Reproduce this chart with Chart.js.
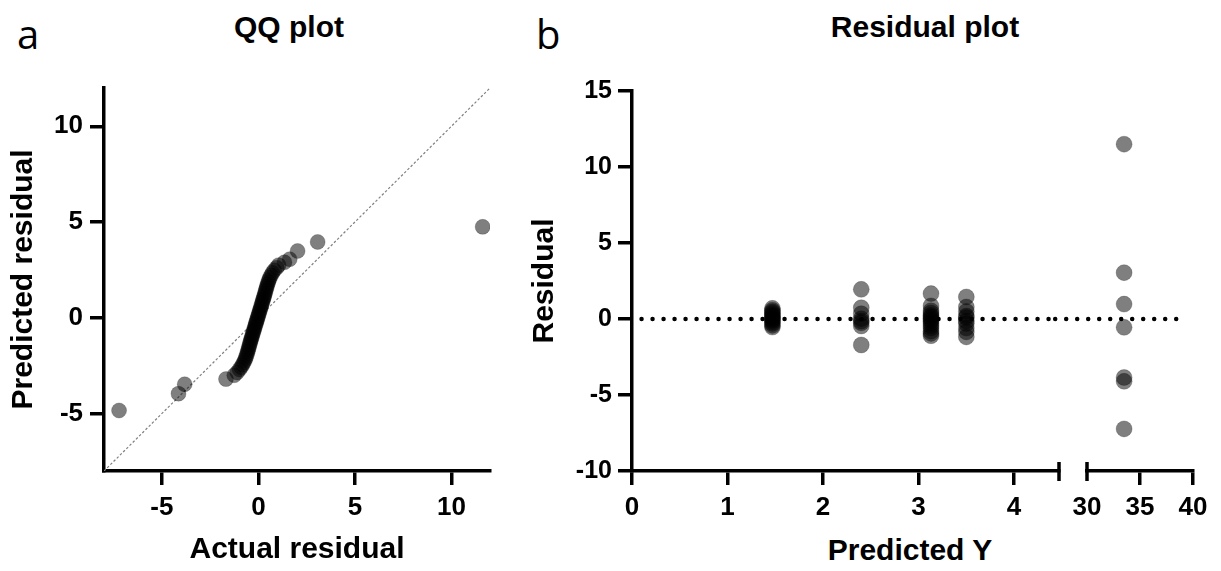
<!DOCTYPE html>
<html>
<head>
<meta charset="utf-8">
<script src="https://cdn.jsdelivr.net/npm/chart.js@4.4.1/dist/chart.umd.min.js"></script>
<style>
    body { margin: 0; background: #fff; }
    #wrap { position: relative; width: 1221px; height: 571px; overflow: hidden; }
    canvas { position: absolute; top: 0; }
    .txt { position: absolute; white-space: nowrap; line-height: 1; color: #000; }
    .letra { font-family: 'Open Sans', sans-serif; font-size: 40px; }
    .titulo { font-family: 'Liberation Sans', Arial, sans-serif; font-weight: bold; font-size: 30px; transform: translateX(-50%); }
</style>
</head>
<body>
<div id="wrap">
    <div class="txt letra" style="left:17px; top:14px">a</div>
    <div class="txt letra" style="left:536px; top:14px">b</div>
    <div class="txt titulo" style="left:289px; top:12px">QQ plot</div>
    <div class="txt titulo" style="left:925px; top:12px">Residual plot</div>
    <div class="txt titulo" style="left:910px; top:535px">Predicted Y</div>
    <canvas id="qqChart" width="505" height="571" style="left:0px"></canvas>
    <canvas id="residChart1" width="570" height="571" style="left:500px"></canvas>
    <canvas id="residChart2" width="171" height="571" style="left:1050px"></canvas>
</div>
<script>
// QQ plot: actual residual (x) vs predicted residual (y)
const qqActual = [
    -7.22, -4.14, -3.82, -1.68, -1.25, -1.10, -0.98, -0.90, -0.82, -0.76,
    -0.70, -0.66, -0.62, -0.58, -0.55, -0.52, -0.49, -0.46, -0.43, -0.40,
    -0.37, -0.34, -0.31, -0.28, -0.25, -0.22, -0.19, -0.16, -0.13, -0.10,
    -0.07, -0.04, -0.01, 0.02, 0.05, 0.08, 0.11, 0.14, 0.17, 0.20,
    0.23, 0.26, 0.29, 0.32, 0.35, 0.38, 0.41, 0.44, 0.47, 0.51,
    0.55, 0.60, 0.66, 0.73, 0.82, 0.95, 1.05, 1.35, 1.62, 2.03,
    3.07, 11.62
]
const qqPredicted = [
    -4.84, -3.96, -3.47, -3.20, -3.00, -2.85, -2.70, -2.58, -2.45, -2.33,
    -2.22, -2.10, -1.98, -1.86, -1.75, -1.64, -1.53, -1.42, -1.31, -1.20,
    -1.10, -1.00, -0.90, -0.80, -0.70, -0.60, -0.50, -0.40, -0.30, -0.20,
    -0.10, 0.00, 0.10, 0.20, 0.30, 0.40, 0.50, 0.60, 0.70, 0.80,
    0.90, 1.00, 1.10, 1.20, 1.31, 1.42, 1.53, 1.64, 1.75, 1.86,
    1.98, 2.10, 2.22, 2.35, 2.48, 2.62, 2.75, 2.90, 3.06, 3.49,
    3.96, 4.75
]
const qqTicks = [-5, 0, 5, 10]
const qqMin = -8
const qqMax = 12

// Residual plot: predicted Y (x) vs residual (y), x axis broken between 4.47 and 30
const residPredY = [
    1.47, 1.47, 1.47, 1.47, 1.47, 1.47, 1.47, 1.47, 1.47, 1.47, 1.47, 1.47, 1.47, 1.47,
    2.40, 2.40, 2.40, 2.40, 2.40, 2.40, 2.40, 2.40,
    3.13, 3.13, 3.13, 3.13, 3.13, 3.13, 3.13, 3.13, 3.13, 3.13, 3.13, 3.13, 3.13, 3.13, 3.13,
    3.50, 3.50, 3.50, 3.50, 3.50, 3.50, 3.50, 3.50, 3.50, 3.50,
    33.5, 33.5, 33.5, 33.5, 33.5, 33.5, 33.5
]
const residValues = [
    0.70, 0.58, 0.48, 0.38, 0.28, 0.20, 0.12, 0.05, -0.02, -0.10, -0.20, -0.30, -0.42, -0.53,
    1.95, 0.74, 0.35, 0.02, -0.13, -0.25, -0.46, -1.71,
    1.67, 0.86, 0.55, 0.40, 0.25, 0.15, 0.05, -0.05, -0.15, -0.30, -0.45, -0.60, -0.80, -0.95, -1.10,
    1.45, 0.79, 0.50, 0.20, 0.10, -0.13, -0.30, -0.60, -0.85, -1.18,
    11.50, 3.05, 0.98, -0.55, -3.85, -4.10, -7.23
]
const residYTicks = [-10, -5, 0, 5, 10, 15]
const residXTicksA = [0, 1, 2, 3, 4]
const residXTicksB = [30, 35, 40]
const faixaA = [0, 4.47]
const faixaB = [30, 40]

const fonteTicks = "'Liberation Sans', Arial, sans-serif"
const corPonto = 'rgba(0,0,0,0.5)'
const corBorda = 'rgba(0,0,0,0.2)'

// marca de fim de eixo (quebra)
const capsPlugin = {
    id: 'caps',
    afterDraw(chart, args, opts) {
        if (!opts.values) return
        const ctx = chart.ctx
        const x = chart.scales.x
        const y0 = chart.chartArea.bottom
        ctx.save()
        ctx.strokeStyle = '#000'
        ctx.lineWidth = 3.5
        opts.values.forEach(v => {
            const px = x.getPixelForValue(v)
            ctx.beginPath()
            ctx.moveTo(px, y0 - 9)
            ctx.lineTo(px, y0 + 10)
            ctx.stroke()
        })
        ctx.restore()
    }
}

function eixo(min, max, ticks, extra) {
    return Object.assign({
        type: 'linear',
        min: min,
        max: max,
        afterBuildTicks: s => { s.ticks = ticks.map(v => ({ value: v })) },
        border: { display: true, color: '#000', width: 3.5 },
        grid: { drawOnChartArea: false, drawTicks: true, tickLength: 14, color: '#000', lineWidth: 3.5, tickWidth: 3.5 },
        ticks: { color: '#000', font: { family: fonteTicks, weight: 'bold', size: 26 }, padding: 7, maxRotation: 0 }
    }, extra || {})
}

function tituloEixo(texto, pad) {
    return {
        display: true,
        text: texto,
        color: '#000',
        font: { family: fonteTicks, weight: 'bold', size: 30 },
        padding: { top: pad, bottom: pad }
    }
}

const baseOpts = {
    responsive: false,
    animation: false,
    events: [],
    plugins: { legend: { display: false }, tooltip: { enabled: false } }
}

// gráfico QQ
new Chart(document.getElementById('qqChart'), {
    type: 'scatter',
    data: {
        datasets: [
            {
                data: qqActual.map((v, i) => ({ x: v, y: qqPredicted[i] })),
                backgroundColor: corPonto,
                borderColor: corBorda,
                borderWidth: 1,
                pointRadius: 7.5
            },
            {
                type: 'line',
                data: [{ x: qqMin, y: qqMin }, { x: qqMax, y: qqMax }],
                borderColor: '#808080',
                borderWidth: 1.2,
                borderDash: [2.5, 2],
                pointRadius: 0,
                showLine: true
            }
        ]
    },
    options: Object.assign({}, baseOpts, {
        layout: { padding: { top: 88, right: 15, left: 0, bottom: 0 } },
        scales: {
            x: eixo(qqMin, qqMax, qqTicks, {
                afterFit: s => { s.height = 100 },
                title: tituloEixo('Actual residual', 3)
            }),
            y: eixo(qqMin, qqMax, qqTicks, {
                afterFit: s => { s.width = 104 },
                title: tituloEixo('Predicted residual', 6)
            })
        }
    })
})

const yResid = eixo(-10, 15, residYTicks, { afterFit: s => { s.width = 132 }, title: tituloEixo('Residual', 27) })
yResid.ticks = Object.assign({}, yResid.ticks, { font: { family: fonteTicks, weight: 'bold', size: 25 }, padding: 6 })

// primeira parte do eixo x (0 a 4.47)
new Chart(document.getElementById('residChart1'), {
    type: 'scatter',
    data: {
        datasets: [
            {
                data: residPredY.map((v, i) => ({ x: v, y: residValues[i] })).filter(p => p.x <= faixaA[1]),
                backgroundColor: corPonto,
                borderColor: corBorda,
                borderWidth: 1,
                pointRadius: 8
            },
            {
                type: 'line',
                data: [{ x: 0.1, y: 0 }, { x: faixaA[1], y: 0 }],
                borderColor: '#000',
                borderWidth: 4.5,
                borderDash: [0, 11],
                borderCapStyle: 'round',
                pointRadius: 0,
                showLine: true
            }
        ]
    },
    options: Object.assign({}, baseOpts, {
        layout: { padding: { top: 91, right: 11, left: 0, bottom: 0 } },
        plugins: Object.assign({}, baseOpts.plugins, { caps: { values: [faixaA[1]] } }),
        scales: {
            x: eixo(faixaA[0], faixaA[1], residXTicksA, { afterFit: s => { s.height = 100 } }),
            y: yResid
        }
    }),
    plugins: [capsPlugin]
})

// segunda parte do eixo x (30 a 40)
const xB = eixo(faixaB[0], faixaB[1], residXTicksB, { afterFit: s => { s.height = 100 } })
xB.grid = Object.assign({}, xB.grid, { tickColor: c => (c.tick && c.tick.value === faixaB[0]) ? 'rgba(0,0,0,0)' : '#000' })

new Chart(document.getElementById('residChart2'), {
    type: 'scatter',
    data: {
        datasets: [
            {
                data: residPredY.map((v, i) => ({ x: v, y: residValues[i] })).filter(p => p.x >= faixaB[0]),
                backgroundColor: corPonto,
                borderColor: corBorda,
                borderWidth: 1,
                pointRadius: 8
            },
            {
                type: 'line',
                data: [{ x: 27.0, y: 0 }, { x: 39.2, y: 0 }],
                borderColor: '#000',
                borderWidth: 4.5,
                borderDash: [0, 11],
                borderCapStyle: 'round',
                pointRadius: 0,
                showLine: true,
                clip: false
            }
        ]
    },
    options: Object.assign({}, baseOpts, {
        layout: { padding: { top: 91, right: 28, left: 37, bottom: 0 } },
        plugins: Object.assign({}, baseOpts.plugins, { caps: { values: [faixaB[0]] } }),
        scales: {
            x: xB,
            y: { type: 'linear', min: -10, max: 15, display: false }
        }
    }),
    plugins: [capsPlugin]
})
</script>
</body>
</html>
